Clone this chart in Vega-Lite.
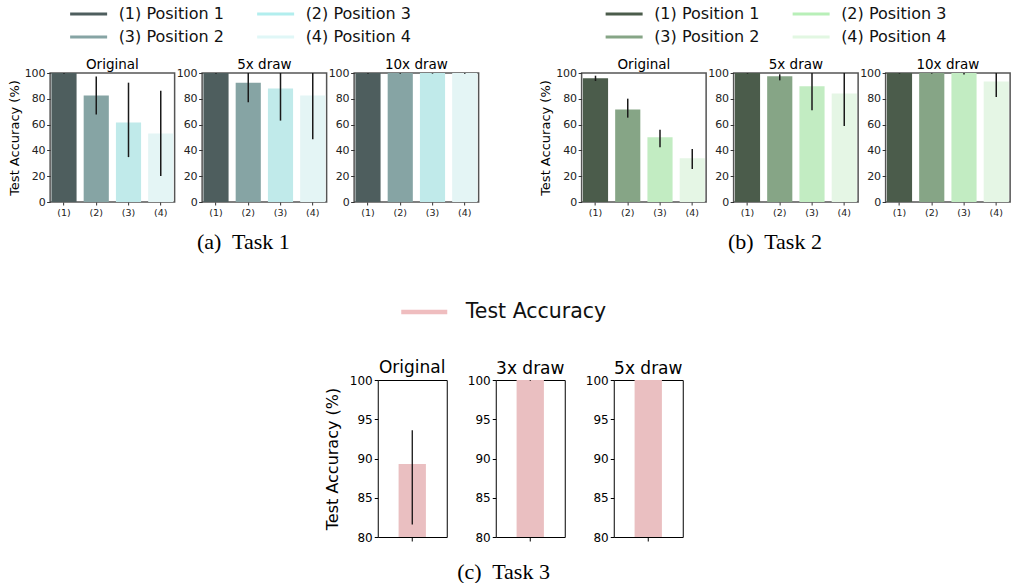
{
  "$schema": "https://vega.github.io/schema/vega-lite/v6.json",
  "padding": {"left": 7, "top": 2, "right": 0, "bottom": 0},
  "background": "white",
  "datasets": {
    "taskA": [
      {"panel": "Original", "pos": "(1)", "series": "(1) Position 1", "acc": 100, "lo": 99.5, "hi": 100},
      {"panel": "Original", "pos": "(2)", "series": "(3) Position 2", "acc": 82.5, "lo": 67.8, "hi": 97.2},
      {"panel": "Original", "pos": "(3)", "series": "(2) Position 3", "acc": 61.6, "lo": 34.8, "hi": 92.5},
      {"panel": "Original", "pos": "(4)", "series": "(4) Position 4", "acc": 53.1, "lo": 20.1, "hi": 86.3},
      {"panel": "5x draw", "pos": "(1)", "series": "(1) Position 1", "acc": 100, "lo": 99.5, "hi": 100},
      {"panel": "5x draw", "pos": "(2)", "series": "(3) Position 2", "acc": 92.5, "lo": 77.3, "hi": 100},
      {"panel": "5x draw", "pos": "(3)", "series": "(2) Position 3", "acc": 87.9, "lo": 63.1, "hi": 100},
      {"panel": "5x draw", "pos": "(4)", "series": "(4) Position 4", "acc": 82.5, "lo": 48.7, "hi": 100},
      {"panel": "10x draw", "pos": "(1)", "series": "(1) Position 1", "acc": 100, "lo": 99.5, "hi": 100},
      {"panel": "10x draw", "pos": "(2)", "series": "(3) Position 2", "acc": 100, "lo": 99.5, "hi": 100},
      {"panel": "10x draw", "pos": "(3)", "series": "(2) Position 3", "acc": 100, "lo": 99.5, "hi": 100},
      {"panel": "10x draw", "pos": "(4)", "series": "(4) Position 4", "acc": 100, "lo": 99.5, "hi": 100}
    ],
    "taskB": [
      {"panel": "Original", "pos": "(1)", "series": "(1) Position 1", "acc": 95.9, "lo": 93.8, "hi": 97.9},
      {"panel": "Original", "pos": "(2)", "series": "(3) Position 2", "acc": 71.8, "lo": 65.4, "hi": 80.1},
      {"panel": "Original", "pos": "(3)", "series": "(2) Position 3", "acc": 50.1, "lo": 42.4, "hi": 56.1},
      {"panel": "Original", "pos": "(4)", "series": "(4) Position 4", "acc": 33.9, "lo": 25.6, "hi": 41.1},
      {"panel": "5x draw", "pos": "(1)", "series": "(1) Position 1", "acc": 100, "lo": 99.5, "hi": 100},
      {"panel": "5x draw", "pos": "(2)", "series": "(3) Position 2", "acc": 97.4, "lo": 94.3, "hi": 99},
      {"panel": "5x draw", "pos": "(3)", "series": "(2) Position 3", "acc": 89.7, "lo": 71.1, "hi": 100},
      {"panel": "5x draw", "pos": "(4)", "series": "(4) Position 4", "acc": 84.2, "lo": 58.9, "hi": 100},
      {"panel": "10x draw", "pos": "(1)", "series": "(1) Position 1", "acc": 100, "lo": 99.5, "hi": 100},
      {"panel": "10x draw", "pos": "(2)", "series": "(3) Position 2", "acc": 100, "lo": 99.5, "hi": 100},
      {"panel": "10x draw", "pos": "(3)", "series": "(2) Position 3", "acc": 100, "lo": 98.9, "hi": 100},
      {"panel": "10x draw", "pos": "(4)", "series": "(4) Position 4", "acc": 93.5, "lo": 81.4, "hi": 100}
    ],
    "taskC": [
      {"panel": "Original", "pos": "Test Accuracy", "series": "Test Accuracy", "acc": 89.3, "lo": 81.6, "hi": 93.6},
      {"panel": "3x draw", "pos": "Test Accuracy", "series": "Test Accuracy", "acc": 100, "lo": 99.9, "hi": 100},
      {"panel": "5x draw", "pos": "Test Accuracy", "series": "Test Accuracy", "acc": 100, "lo": 100, "hi": 100}
    ]
  },
  "vconcat": [
    {
      "hconcat": [
        {
          "title": {"text": "(a)\u00a0 Task 1", "orient": "bottom", "font": "Liberation Serif", "fontSize": 22, "fontWeight": "normal", "color": "#000", "offset": 15, "anchor": "middle", "frame": "bounds", "baseline": "top"},
          "spacing": 27,
          "bounds": "flush",
          "resolve": {"legend": {"stroke": "independent"}},
          "hconcat": [
            {
              "width": 124.5, "height": 129,
              "title": {"text": "Original", "offset": -68},
              "view": {"stroke": "#555", "strokeWidth": 1.5},
              "data": {"name": "taskA"},
              "transform": [{"filter": "datum.panel === 'Original'"}],
              "encoding": {"x": {"field": "pos", "type": "nominal", "sort": null, "scale": {"paddingInner": 0.22, "paddingOuter": 0.04}, "axis": {"title": null, "labelAngle": 0, "labelFontSize": 9.5, "tickSize": 3, "labelPadding": 2}}},
              "layer": [
                {"mark": {"type": "bar", "strokeWidth": 0},
                 "encoding": {
                   "y": {"field": "acc", "type": "quantitative", "scale": {"domain": [0, 100], "nice": false}, "axis": {"title": "Test Accuracy (%)", "values": [0, 20, 40, 60, 80, 100], "labelFontSize": 11, "tickSize": 3.5, "labelPadding": 1.5, "titleFontSize": 13, "titlePadding": 3}},
                   "fill": {"field": "series", "type": "nominal", "scale": {"domain": ["(1) Position 1", "(3) Position 2", "(2) Position 3", "(4) Position 4"], "range": ["#4e5e5e", "#86a4a4", "#c0eaea", "#e4f5f5"]}, "legend": null},
                   "stroke": {"field": "series", "type": "nominal", "scale": {"domain": ["(1) Position 1", "(3) Position 2", "(2) Position 3", "(4) Position 4"], "range": ["#4e5e5e", "#86a4a4", "#b2eeee", "#e0f7f7"]}, "legend": {"orient": "none", "legendX": 27.5, "legendY": -70, "columns": 2, "symbolType": "M-2,0H2", "symbolSize": 342, "symbolStrokeWidth": 3, "labelFontSize": 16, "labelOffset": 19, "columnPadding": 26, "rowPadding": 4, "encode": {"symbols": {"update": {"strokeWidth": {"value": 3}, "strokeOpacity": {"value": 1}}}}}}
                 }},
                {"mark": {"type": "rule", "color": "#1a1a1a", "strokeWidth": 1.5},
                 "encoding": {"y": {"field": "lo", "type": "quantitative", "axis": {"title": "Test Accuracy (%)", "values": [0, 20, 40, 60, 80, 100], "labelFontSize": 11, "tickSize": 3.5, "labelPadding": 1.5, "titleFontSize": 13, "titlePadding": 3}}, "y2": {"field": "hi"}}}
              ]
            },
            {
              "width": 124.5, "height": 129,
              "title": {"text": "5x draw"},
              "view": {"stroke": "#555", "strokeWidth": 1.5},
              "data": {"name": "taskA"},
              "transform": [{"filter": "datum.panel === '5x draw'"}],
              "encoding": {"x": {"field": "pos", "type": "nominal", "sort": null, "scale": {"paddingInner": 0.22, "paddingOuter": 0.04}, "axis": {"title": null, "labelAngle": 0, "labelFontSize": 9.5, "tickSize": 3, "labelPadding": 2}}},
              "layer": [
                {"mark": {"type": "bar", "strokeWidth": 0},
                 "encoding": {
                   "y": {"field": "acc", "type": "quantitative", "scale": {"domain": [0, 100], "nice": false}, "axis": {"title": null, "values": [0, 20, 40, 60, 80, 100], "labelFontSize": 11, "tickSize": 3.5, "labelPadding": 1.5}},
                   "fill": {"field": "series", "type": "nominal", "scale": {"domain": ["(1) Position 1", "(3) Position 2", "(2) Position 3", "(4) Position 4"], "range": ["#4e5e5e", "#86a4a4", "#c0eaea", "#e4f5f5"]}, "legend": null},
                   "stroke": {"field": "series", "type": "nominal", "scale": {"domain": ["(1) Position 1", "(3) Position 2", "(2) Position 3", "(4) Position 4"], "range": ["#4e5e5e", "#86a4a4", "#b2eeee", "#e0f7f7"]}, "legend": null}
                 }},
                {"mark": {"type": "rule", "color": "#1a1a1a", "strokeWidth": 1.5},
                 "encoding": {"y": {"field": "lo", "type": "quantitative", "axis": {"title": null, "values": [0, 20, 40, 60, 80, 100], "labelFontSize": 11, "tickSize": 3.5, "labelPadding": 1.5}}, "y2": {"field": "hi"}}}
              ]
            },
            {
              "width": 124.5, "height": 129,
              "title": {"text": "10x draw"},
              "view": {"stroke": "#555", "strokeWidth": 1.5},
              "data": {"name": "taskA"},
              "transform": [{"filter": "datum.panel === '10x draw'"}],
              "encoding": {"x": {"field": "pos", "type": "nominal", "sort": null, "scale": {"paddingInner": 0.22, "paddingOuter": 0.04}, "axis": {"title": null, "labelAngle": 0, "labelFontSize": 9.5, "tickSize": 3, "labelPadding": 2}}},
              "layer": [
                {"mark": {"type": "bar", "strokeWidth": 0},
                 "encoding": {
                   "y": {"field": "acc", "type": "quantitative", "scale": {"domain": [0, 100], "nice": false}, "axis": {"title": null, "values": [0, 20, 40, 60, 80, 100], "labelFontSize": 11, "tickSize": 3.5, "labelPadding": 1.5}},
                   "fill": {"field": "series", "type": "nominal", "scale": {"domain": ["(1) Position 1", "(3) Position 2", "(2) Position 3", "(4) Position 4"], "range": ["#4e5e5e", "#86a4a4", "#c0eaea", "#e4f5f5"]}, "legend": null},
                   "stroke": {"field": "series", "type": "nominal", "scale": {"domain": ["(1) Position 1", "(3) Position 2", "(2) Position 3", "(4) Position 4"], "range": ["#4e5e5e", "#86a4a4", "#b2eeee", "#e0f7f7"]}, "legend": null}
                 }},
                {"mark": {"type": "rule", "color": "#1a1a1a", "strokeWidth": 1.5},
                 "encoding": {"y": {"field": "lo", "type": "quantitative", "axis": {"title": null, "values": [0, 20, 40, 60, 80, 100], "labelFontSize": 11, "tickSize": 3.5, "labelPadding": 1.5}}, "y2": {"field": "hi"}}}
              ]
            }
          ]
        },
        {
          "title": {"text": "(b)\u00a0 Task 2", "orient": "bottom", "font": "Liberation Serif", "fontSize": 22, "fontWeight": "normal", "color": "#000", "offset": 15, "anchor": "middle", "frame": "bounds", "baseline": "top"},
          "spacing": 27,
          "bounds": "flush",
          "resolve": {"legend": {"stroke": "independent"}},
          "hconcat": [
            {
              "width": 124.5, "height": 129,
              "title": {"text": "Original", "offset": -68},
              "view": {"stroke": "#555", "strokeWidth": 1.5},
              "data": {"name": "taskB"},
              "transform": [{"filter": "datum.panel === 'Original'"}],
              "encoding": {"x": {"field": "pos", "type": "nominal", "sort": null, "scale": {"paddingInner": 0.22, "paddingOuter": 0.04}, "axis": {"title": null, "labelAngle": 0, "labelFontSize": 9.5, "tickSize": 3, "labelPadding": 2}}},
              "layer": [
                {"mark": {"type": "bar", "strokeWidth": 0},
                 "encoding": {
                   "y": {"field": "acc", "type": "quantitative", "scale": {"domain": [0, 100], "nice": false}, "axis": {"title": "Test Accuracy (%)", "values": [0, 20, 40, 60, 80, 100], "labelFontSize": 11, "tickSize": 3.5, "labelPadding": 1.5, "titleFontSize": 13, "titlePadding": 3}},
                   "fill": {"field": "series", "type": "nominal", "scale": {"domain": ["(1) Position 1", "(3) Position 2", "(2) Position 3", "(4) Position 4"], "range": ["#4b5c4b", "#86a586", "#c2ecc2", "#e5f6e5"]}, "legend": null},
                   "stroke": {"field": "series", "type": "nominal", "scale": {"domain": ["(1) Position 1", "(3) Position 2", "(2) Position 3", "(4) Position 4"], "range": ["#4b5c4b", "#86a586", "#b8efb8", "#e2f7e2"]}, "legend": {"orient": "none", "legendX": 31.5, "legendY": -70, "columns": 2, "symbolType": "M-2,0H2", "symbolSize": 342, "symbolStrokeWidth": 3, "labelFontSize": 16, "labelOffset": 19, "columnPadding": 26, "rowPadding": 4, "encode": {"symbols": {"update": {"strokeWidth": {"value": 3}, "strokeOpacity": {"value": 1}}}}}}
                 }},
                {"mark": {"type": "rule", "color": "#1a1a1a", "strokeWidth": 1.5},
                 "encoding": {"y": {"field": "lo", "type": "quantitative", "axis": {"title": "Test Accuracy (%)", "values": [0, 20, 40, 60, 80, 100], "labelFontSize": 11, "tickSize": 3.5, "labelPadding": 1.5, "titleFontSize": 13, "titlePadding": 3}}, "y2": {"field": "hi"}}}
              ]
            },
            {
              "width": 124.5, "height": 129,
              "title": {"text": "5x draw"},
              "view": {"stroke": "#555", "strokeWidth": 1.5},
              "data": {"name": "taskB"},
              "transform": [{"filter": "datum.panel === '5x draw'"}],
              "encoding": {"x": {"field": "pos", "type": "nominal", "sort": null, "scale": {"paddingInner": 0.22, "paddingOuter": 0.04}, "axis": {"title": null, "labelAngle": 0, "labelFontSize": 9.5, "tickSize": 3, "labelPadding": 2}}},
              "layer": [
                {"mark": {"type": "bar", "strokeWidth": 0},
                 "encoding": {
                   "y": {"field": "acc", "type": "quantitative", "scale": {"domain": [0, 100], "nice": false}, "axis": {"title": null, "values": [0, 20, 40, 60, 80, 100], "labelFontSize": 11, "tickSize": 3.5, "labelPadding": 1.5}},
                   "fill": {"field": "series", "type": "nominal", "scale": {"domain": ["(1) Position 1", "(3) Position 2", "(2) Position 3", "(4) Position 4"], "range": ["#4b5c4b", "#86a586", "#c2ecc2", "#e5f6e5"]}, "legend": null},
                   "stroke": {"field": "series", "type": "nominal", "scale": {"domain": ["(1) Position 1", "(3) Position 2", "(2) Position 3", "(4) Position 4"], "range": ["#4b5c4b", "#86a586", "#b8efb8", "#e2f7e2"]}, "legend": null}
                 }},
                {"mark": {"type": "rule", "color": "#1a1a1a", "strokeWidth": 1.5},
                 "encoding": {"y": {"field": "lo", "type": "quantitative", "axis": {"title": null, "values": [0, 20, 40, 60, 80, 100], "labelFontSize": 11, "tickSize": 3.5, "labelPadding": 1.5}}, "y2": {"field": "hi"}}}
              ]
            },
            {
              "width": 124.5, "height": 129,
              "title": {"text": "10x draw"},
              "view": {"stroke": "#555", "strokeWidth": 1.5},
              "data": {"name": "taskB"},
              "transform": [{"filter": "datum.panel === '10x draw'"}],
              "encoding": {"x": {"field": "pos", "type": "nominal", "sort": null, "scale": {"paddingInner": 0.22, "paddingOuter": 0.04}, "axis": {"title": null, "labelAngle": 0, "labelFontSize": 9.5, "tickSize": 3, "labelPadding": 2}}},
              "layer": [
                {"mark": {"type": "bar", "strokeWidth": 0},
                 "encoding": {
                   "y": {"field": "acc", "type": "quantitative", "scale": {"domain": [0, 100], "nice": false}, "axis": {"title": null, "values": [0, 20, 40, 60, 80, 100], "labelFontSize": 11, "tickSize": 3.5, "labelPadding": 1.5}},
                   "fill": {"field": "series", "type": "nominal", "scale": {"domain": ["(1) Position 1", "(3) Position 2", "(2) Position 3", "(4) Position 4"], "range": ["#4b5c4b", "#86a586", "#c2ecc2", "#e5f6e5"]}, "legend": null},
                   "stroke": {"field": "series", "type": "nominal", "scale": {"domain": ["(1) Position 1", "(3) Position 2", "(2) Position 3", "(4) Position 4"], "range": ["#4b5c4b", "#86a586", "#b8efb8", "#e2f7e2"]}, "legend": null}
                 }},
                {"mark": {"type": "rule", "color": "#1a1a1a", "strokeWidth": 1.5},
                 "encoding": {"y": {"field": "lo", "type": "quantitative", "axis": {"title": null, "values": [0, 20, 40, 60, 80, 100], "labelFontSize": 11, "tickSize": 3.5, "labelPadding": 1.5}}, "y2": {"field": "hi"}}}
              ]
            }
          ]
        }
      ],
      "spacing": 58.5,
      "resolve": {"scale": {"fill": "independent", "stroke": "independent"}}
    },
    {
      "title": {"text": "(c)\u00a0 Task 3", "orient": "bottom", "font": "Liberation Serif", "fontSize": 22, "fontWeight": "normal", "color": "#000", "offset": 18, "anchor": "middle", "frame": "bounds", "baseline": "top"},
      "spacing": 49,
      "bounds": "flush",
      "resolve": {"legend": {"stroke": "independent"}},
      "hconcat": [
        {
          "width": 69, "height": 157,
          "title": {"text": "Original", "fontSize": 17, "offset": -90.5},
          "view": {"stroke": "#000", "strokeWidth": 1},
          "data": {"name": "taskC"},
          "transform": [{"filter": "datum.panel === 'Original'"}],
          "encoding": {"x": {"field": "pos", "type": "nominal", "scale": {"paddingInner": 0, "paddingOuter": 0.763}, "axis": {"title": null, "labels": false, "tickSize": 4, "tickColor": "#000"}}},
          "layer": [
            {"mark": {"type": "bar", "strokeWidth": 0, "clip": true},
             "encoding": {
               "y": {"field": "acc", "type": "quantitative", "scale": {"domain": [80, 100], "nice": false, "zero": false}, "axis": {"title": "Test Accuracy (%)", "values": [80, 85, 90, 95, 100], "labelFontSize": 12, "tickSize": 3.5, "labelPadding": 2, "titleFontSize": 16, "titlePadding": 9, "tickColor": "#000", "labelColor": "#000"}},
               "fill": {"field": "series", "type": "nominal", "scale": {"domain": ["Test Accuracy"], "range": ["#eabfc1"]}, "legend": null},
               "stroke": {"field": "series", "type": "nominal", "scale": {"domain": ["Test Accuracy"], "range": ["#efbdbf"]}, "legend": {"orient": "none", "legendX": 21, "legendY": -93.5, "symbolType": "stroke", "symbolSize": 2116, "symbolStrokeWidth": 4.5, "labelFontSize": 20.5, "labelOffset": 16, "encode": {"symbols": {"update": {"strokeWidth": {"value": 4.5}, "strokeOpacity": {"value": 1}}}}}}
             }},
            {"mark": {"type": "rule", "color": "#000", "strokeWidth": 1.2},
             "encoding": {"y": {"field": "lo", "type": "quantitative", "axis": {"title": "Test Accuracy (%)", "values": [80, 85, 90, 95, 100], "labelFontSize": 12, "tickSize": 3.5, "labelPadding": 2, "titleFontSize": 16, "titlePadding": 9, "tickColor": "#000", "labelColor": "#000"}}, "y2": {"field": "hi"}}}
          ]
        },
        {
          "width": 69, "height": 157,
          "title": {"text": "3x draw", "fontSize": 17},
          "view": {"stroke": "#000", "strokeWidth": 1},
          "data": {"name": "taskC"},
          "transform": [{"filter": "datum.panel === '3x draw'"}],
          "encoding": {"x": {"field": "pos", "type": "nominal", "scale": {"paddingInner": 0, "paddingOuter": 0.763}, "axis": {"title": null, "labels": false, "tickSize": 4, "tickColor": "#000"}}},
          "layer": [
            {"mark": {"type": "bar", "strokeWidth": 0, "clip": true},
             "encoding": {
               "y": {"field": "acc", "type": "quantitative", "scale": {"domain": [80, 100], "nice": false, "zero": false}, "axis": {"title": null, "values": [80, 85, 90, 95, 100], "labelFontSize": 12, "tickSize": 3.5, "labelPadding": 2, "tickColor": "#000", "labelColor": "#000"}},
               "fill": {"field": "series", "type": "nominal", "scale": {"domain": ["Test Accuracy"], "range": ["#eabfc1"]}, "legend": null},
               "stroke": {"field": "series", "type": "nominal", "scale": {"domain": ["Test Accuracy"], "range": ["#efbdbf"]}, "legend": null}
             }},
            {"mark": {"type": "rule", "color": "#000", "strokeWidth": 1.2},
             "encoding": {"y": {"field": "lo", "type": "quantitative", "axis": {"title": null, "values": [80, 85, 90, 95, 100], "labelFontSize": 12, "tickSize": 3.5, "labelPadding": 2, "tickColor": "#000", "labelColor": "#000"}}, "y2": {"field": "hi"}}}
          ]
        },
        {
          "width": 69, "height": 157,
          "title": {"text": "5x draw", "fontSize": 17},
          "view": {"stroke": "#000", "strokeWidth": 1},
          "data": {"name": "taskC"},
          "transform": [{"filter": "datum.panel === '5x draw'"}],
          "encoding": {"x": {"field": "pos", "type": "nominal", "scale": {"paddingInner": 0, "paddingOuter": 0.763}, "axis": {"title": null, "labels": false, "tickSize": 4, "tickColor": "#000"}}},
          "layer": [
            {"mark": {"type": "bar", "strokeWidth": 0, "clip": true},
             "encoding": {
               "y": {"field": "acc", "type": "quantitative", "scale": {"domain": [80, 100], "nice": false, "zero": false}, "axis": {"title": null, "values": [80, 85, 90, 95, 100], "labelFontSize": 12, "tickSize": 3.5, "labelPadding": 2, "tickColor": "#000", "labelColor": "#000"}},
               "fill": {"field": "series", "type": "nominal", "scale": {"domain": ["Test Accuracy"], "range": ["#eabfc1"]}, "legend": null},
               "stroke": {"field": "series", "type": "nominal", "scale": {"domain": ["Test Accuracy"], "range": ["#efbdbf"]}, "legend": null}
             }},
            {"mark": {"type": "rule", "color": "#000", "strokeWidth": 1.2},
             "encoding": {"y": {"field": "lo", "type": "quantitative", "axis": {"title": null, "values": [80, 85, 90, 95, 100], "labelFontSize": 12, "tickSize": 3.5, "labelPadding": 2, "tickColor": "#000", "labelColor": "#000"}}, "y2": {"field": "hi"}}}
          ]
        }
      ]
    }
  ],
  "spacing": 32,
  "center": true,
  "resolve": {"scale": {"fill": "independent", "stroke": "independent"}},
  "config": {
    "font": "DejaVu Sans",
    "axis": {"grid": false, "domain": false, "tickColor": "#333", "labelColor": "#222", "labelFont": "DejaVu Sans", "titleFont": "DejaVu Sans", "titleFontWeight": "normal", "titleColor": "#000"},
    "title": {"font": "DejaVu Sans", "fontWeight": "normal", "fontSize": 13.5, "color": "#000", "offset": -4, "baseline": "alphabetic", "frame": "group", "anchor": "middle"},
    "legend": {"title": null, "symbolType": "stroke", "labelFont": "DejaVu Sans", "labelColor": "#111", "padding": 0}
  }
}
